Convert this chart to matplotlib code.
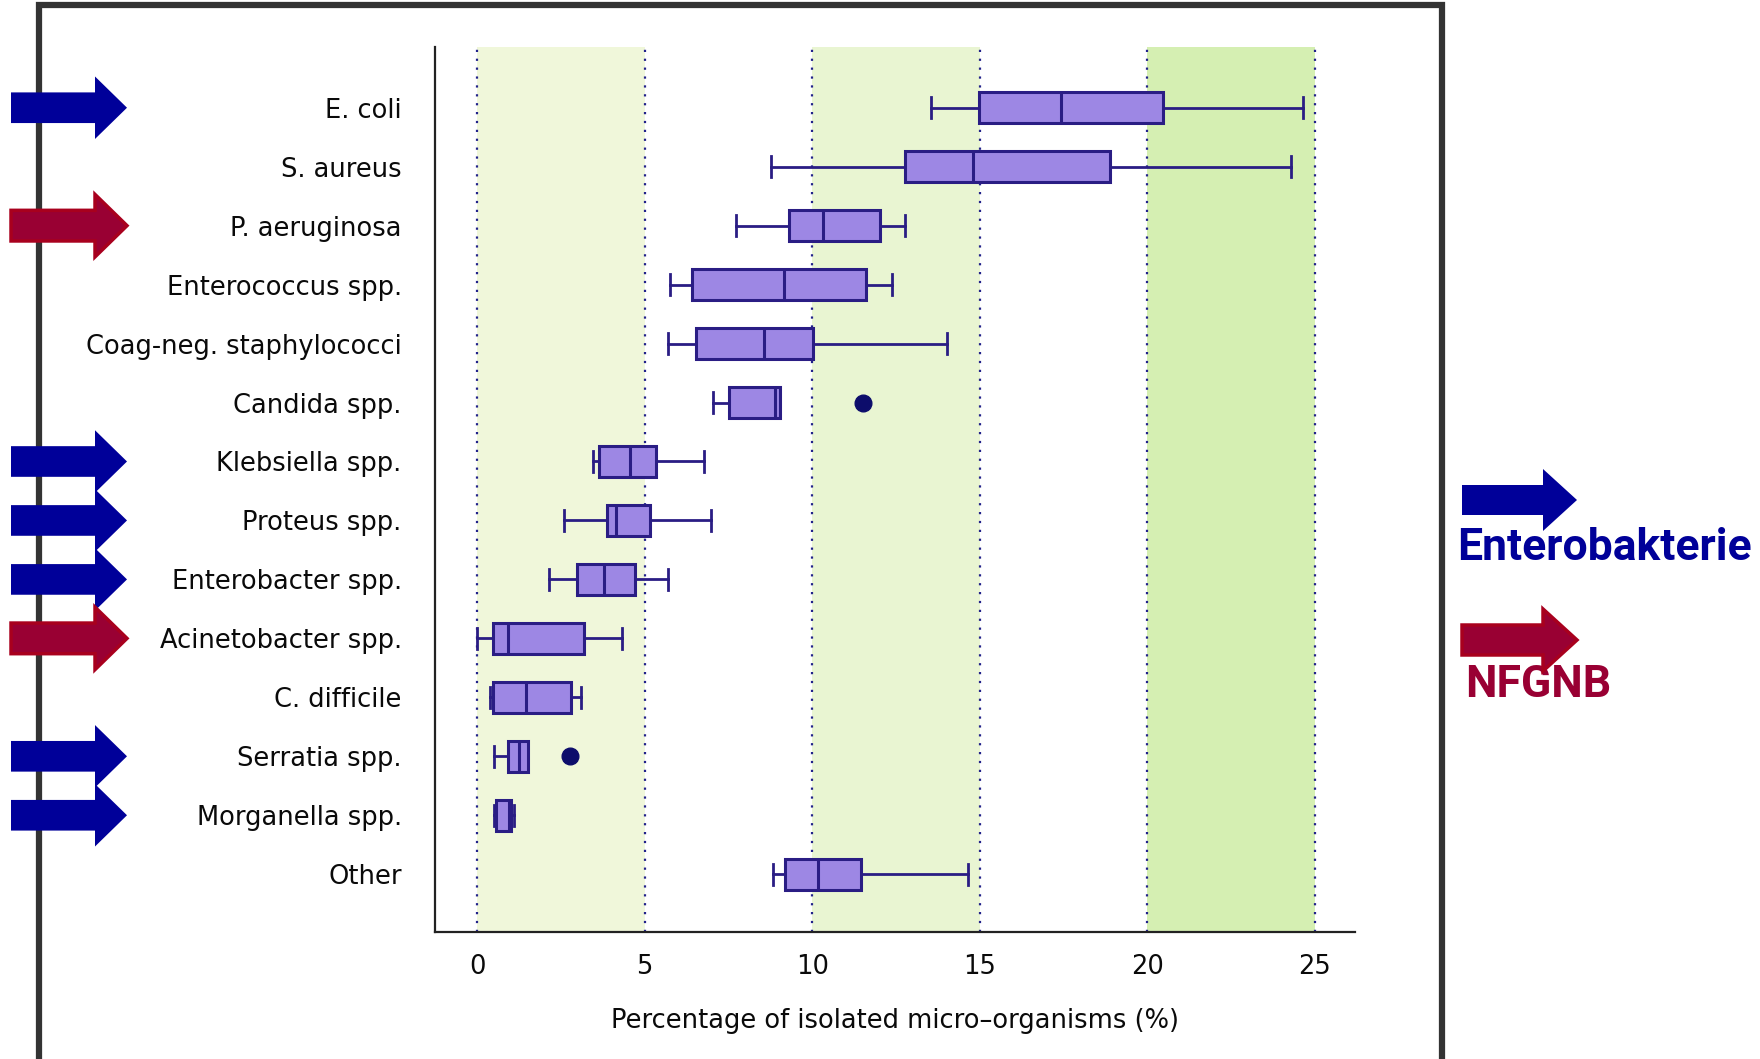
import numpy as np
import matplotlib.pyplot as plt
from matplotlib.patches import Polygon, Rectangle
import matplotlib.transforms as mtransforms

# data (percent of isolated micro-organisms)
organisms = ["E. coli", "S. aureus", "P. aeruginosa", "Enterococcus spp.",
             "Coag-neg. staphylococci", "Candida spp.", "Klebsiella spp.",
             "Proteus spp.", "Enterobacter spp.", "Acinetobacter spp.",
             "C. difficile", "Serratia spp.", "Morganella spp.", "Other"]
whislo = [13.55, 8.77, 7.71, 5.74, 5.70, 7.04, 3.46, 2.59, 2.13, 0.00, 0.39, 0.51, 0.51, 8.82]
q1     = [14.98, 12.76, 9.30, 6.42, 6.52, 7.53, 3.63, 3.88, 2.98, 0.48, 0.48, 0.91, 0.55, 9.18]
med    = [17.41, 14.81, 10.33, 9.16, 8.56, 8.90, 4.55, 4.15, 3.77, 0.91, 1.46, 1.24, 0.94, 10.17]
q3     = [20.46, 18.89, 12.02, 11.61, 10.02, 9.04, 5.34, 5.15, 4.70, 3.19, 2.81, 1.53, 1.01, 11.47]
whishi = [24.66, 24.28, 12.76, 12.38, 14.01, 9.04, 6.76, 6.98, 5.68, 4.31, 3.10, 1.53, 1.11, 14.65]
fliers = [[], [], [], [], [], [11.52], [], [], [], [], [], [2.76], [], []]

enterobacteria = ["E. coli", "Klebsiella spp.", "Proteus spp.", "Enterobacter spp.",
                  "Serratia spp.", "Morganella spp."]
nfgnb = ["P. aeruginosa", "Acinetobacter spp."]

xticks = [0, 5, 10, 15, 20, 25]
bands = [(0, 5, '#f0f7da'), (10, 15, '#e9f5d2'), (20, 25, '#d5efb2')]

BLUE = '#000099'
RED = '#990033'
REDEDGE = '#a8001e'
BOXFILL = '#9d87e4'
BOXEDGE = '#2a1d84'

W, H = 1760, 1059
fig = plt.figure(figsize=(W / 100, H / 100), dpi=100)
fig.patch.set_facecolor('white')
ax = fig.add_axes([435 / W, 1 - 932 / H, (1355 - 435) / W, (932 - 47) / H])

for a, b, c in bands:
    ax.axvspan(a, b, color=c, zorder=0, lw=0)
for t in xticks:
    ax.axvline(t, color='#22228a', ls=(0, (1, 3)), lw=1.6, zorder=1)

stats = []
for i in range(len(organisms)):
    stats.append(dict(label=organisms[i], whislo=whislo[i], q1=q1[i], med=med[i],
                      q3=q3[i], whishi=whishi[i], fliers=fliers[i]))

ax.bxp(stats, positions=np.arange(len(organisms)), orientation='horizontal',
       widths=0.52, capwidths=0.36, patch_artist=True, showfliers=True,
       boxprops=dict(facecolor=BOXFILL, edgecolor=BOXEDGE, lw=2.2),
       medianprops=dict(color=BOXEDGE, lw=2.2),
       whiskerprops=dict(color=BOXEDGE, lw=2.0),
       capprops=dict(color=BOXEDGE, lw=2.0),
       flierprops=dict(marker='o', markerfacecolor='#0d0d6b',
                       markeredgecolor='#0d0d6b', markersize=12))

ax.set_xlim(-1.26, 26.2)
ax.set_ylim(13.98, -1.03)
ax.set_yticks(np.arange(len(organisms)), organisms)
ax.set_xticks(xticks)
ax.tick_params(axis='y', length=0, pad=24, labelsize=18.5, labelcolor='#0a0a0a')
ax.tick_params(axis='x', length=0, pad=16, labelsize=18.5, labelcolor='#0a0a0a')
ax.set_xlabel('Percentage of isolated micro\u2013organisms (%)', fontsize=18.5,
              color='#0a0a0a', labelpad=20)
for s in ['top', 'right']:
    ax.spines[s].set_visible(False)
for s in ['left', 'bottom']:
    ax.spines[s].set_color('#222222')
    ax.spines[s].set_linewidth(1.6)

# outer frame of the slide
fig.add_artist(Rectangle((39 / W, -0.1), (1442 - 39) / W, 0.1 + 1 - 4.5 / H,
                         transform=fig.transFigure, fill=False,
                         edgecolor='#333333', lw=4.5, zorder=2))


def arrow_pts(x0, xh, x1, yc, hs, hh):
    return [(x0, yc - hs), (xh, yc - hs), (xh, yc - hh), (x1, yc),
            (xh, yc + hh), (xh, yc + hs), (x0, yc + hs)]


# arrows next to the category labels
blend = mtransforms.blended_transform_factory(fig.transFigure, ax.transData)
for name in enterobacteria + nfgnb:
    y = organisms.index(name)
    red = name in nfgnb
    fig.add_artist(Polygon(arrow_pts(11 / W, 95 / W, 127 / W, y, 0.26, 0.53),
                           closed=True, transform=blend, zorder=5,
                           facecolor=RED if red else BLUE,
                           edgecolor=REDEDGE if red else BLUE, lw=2.5 if red else 0))

# legend on the right
for yc, red in [(500, False), (640, True)]:
    yf = 1 - yc / H
    fig.add_artist(Polygon(arrow_pts(1462 / W, 1543 / W, 1577 / W, yf, 15 / H, 31 / H),
                           closed=True, transform=fig.transFigure, zorder=5,
                           facecolor=RED if red else BLUE,
                           edgecolor=REDEDGE if red else BLUE, lw=2.5 if red else 0))
fig.text(1457 / W, 1 - 548 / H, 'Enterobakterie', color=BLUE, fontsize=32,
         fontweight='bold', family='Roboto', va='center', ha='left')
fig.text(1465 / W, 1 - 685 / H, 'NFGNB', color=RED, fontsize=32,
         fontweight='bold', family='Roboto', va='center', ha='left')

fig.savefig('out.png', dpi=100)
